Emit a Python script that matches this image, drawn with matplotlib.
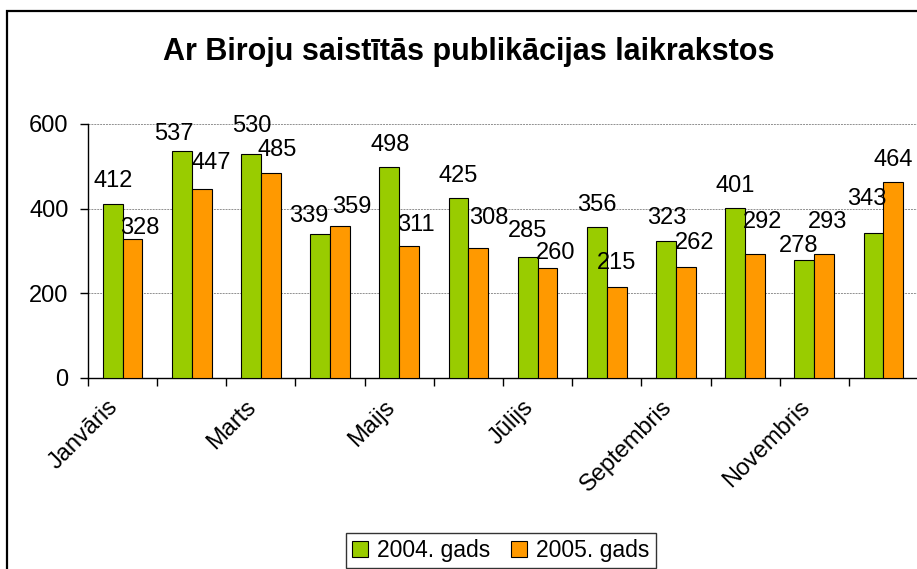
import matplotlib
matplotlib.use('Agg')
import matplotlib.pyplot as plt
from matplotlib.patches import Rectangle, Patch
import numpy as np

plt.rcParams['font.family'] = ['Liberation Sans', 'DejaVu Sans']

# data
months = ['Janvāris', 'Februāris', 'Marts', 'Aprīlis', 'Maijs', 'Jūnijs',
          'Jūlijs', 'Augusts', 'Septembris', 'Oktobris', 'Novembris', 'Decembris']
gads_2004 = [412, 537, 530, 339, 498, 425, 285, 356, 323, 401, 278, 343]
gads_2005 = [328, 447, 485, 359, 311, 308, 260, 215, 262, 292, 293, 464]
series_names = ['2004. gads', '2005. gads']
title = 'Ar Biroju saistītās publikācijas laikrakstos'

# label nudges (pixels), labels were moved by hand in the original
dx_2004 = [0, -8, 1, -11, 1, 0, 0, 0, 1, 0, -6, -7]
dy_2004 = [23, 17, 28, 18, 22, 22, 26, 22, 23, 22, 14, 34]
dx_2005 = [7, 10, 6, 12, 7, 10, 8, 0, 9, 8, 3, 0]
dy_2005 = [11, 26, 23, 19, 21, 30, 15, 24, 24, 32, 32, 22]

green = '#99CC00'
orange = '#FF9900'
fs = 17

fig = plt.figure(figsize=(9.17, 5.69), dpi=100)
W, H = 917, 569

# outer chart border (cut off on the right and bottom)
fig.patches.append(Rectangle((7 / W, -0.1), 1.2, 1 - 11 / H + 0.1,
                             transform=fig.transFigure, fill=False,
                             edgecolor='black', linewidth=1.6))

ax = fig.add_axes([88 / W, (H - 378) / H, 830 / W, 254 / H])

x = np.arange(len(months))
bw = 0.2857
ax.bar(x - bw / 2, gads_2004, bw, color=green, edgecolor='black', linewidth=0.8, zorder=3)
ax.bar(x + bw / 2, gads_2005, bw, color=orange, edgecolor='black', linewidth=0.8, zorder=3)

for i in range(len(months)):
    ax.annotate(str(gads_2004[i]), (x[i] - bw / 2, gads_2004[i]),
                xytext=(dx_2004[i], dy_2004[i]), textcoords='offset pixels',
                ha='center', va='center', fontsize=fs, zorder=4)
    ax.annotate(str(gads_2005[i]), (x[i] + bw / 2, gads_2005[i]),
                xytext=(dx_2005[i], dy_2005[i]), textcoords='offset pixels',
                ha='center', va='center', fontsize=fs, zorder=4)

ax.set_xlim(-0.5, len(months) - 0.5)
ax.set_ylim(0, 600)
ax.set_yticks([0, 200, 400, 600])
ax.yaxis.grid(True, color='#909090', linestyle=(0, (2, 1)), linewidth=0.7, zorder=0)

# x ticks: marks on category boundaries, labels on every second category
ax.set_xticks(x[::2])
ax.set_xticklabels(months[::2], rotation=45, ha='right', va='top', fontsize=fs)
ax.set_xticks(np.arange(-0.5, len(months), 1), minor=True)
ax.tick_params(axis='x', which='major', length=0, pad=13)
ax.tick_params(axis='x', which='minor', length=6, width=1, direction='out')
ax.tick_params(axis='y', length=6, width=1, direction='out', labelsize=fs, pad=8)

for s in ['top', 'right']:
    ax.spines[s].set_visible(False)
ax.spines['left'].set_linewidth(1)
ax.spines['bottom'].set_linewidth(1)

fig.text(469 / W, 1 - 52 / H, title, ha='center', va='center',
         fontsize=22, fontweight='bold')

handles = [Patch(facecolor=green, edgecolor='black', linewidth=0.8),
           Patch(facecolor=orange, edgecolor='black', linewidth=0.8)]
leg = fig.legend(handles, series_names, loc='lower center',
                 bbox_to_anchor=(501 / W, 0.0), ncol=2, fontsize=16.5,
                 frameon=True, fancybox=False, edgecolor='black',
                 handlelength=0.7, handleheight=0.7, handletextpad=0.4,
                 columnspacing=0.9, borderpad=0.25, borderaxespad=0.05)
leg.get_frame().set_linewidth(1)

plt.savefig('out.png', dpi=100)
